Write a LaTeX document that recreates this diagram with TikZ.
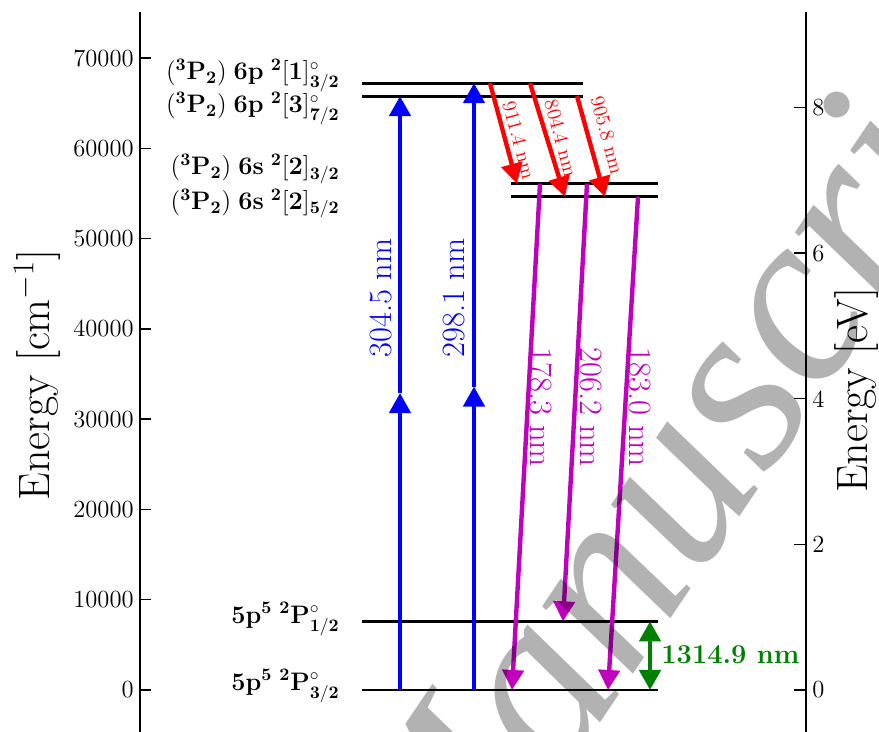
\documentclass[tikz,border=0pt]{standalone}
\usepackage{amsmath}
\usepackage{amssymb}
\usepackage[no-math]{fontspec}
\newfontfamily\wmfont{Liberation Serif}
\usepackage{tikz}
\usetikzlibrary{
  arrows.meta,   % Triangle 箭头
  calc,          % 坐标计算
  positioning    % 节点相对定位
}
% matplotlib 默认颜色
\definecolor{mblue}{rgb}{0,0,1}
\definecolor{mred}{rgb}{1,0,0}
\definecolor{mmagenta}{rgb}{0.75,0,0.75}
\definecolor{mgreen}{rgb}{0,0.5,0}
\tikzset{
  level line/.style={line width=1.7pt, draw=black},
  spine/.style={line width=1.6pt, draw=black},
  tick/.style={line width=0.8pt, draw=black},
  trans/.style={->, line width=2.5pt},
  pump/.style={trans, color=mblue},
  decay/.style={trans, color=mred},
  emit/.style={trans, color=mmagenta},
  fine/.style={<->, line width=2.5pt, color=mgreen},
  level label/.style={anchor=east, inner sep=0pt, font=\fontsize{13.7}{16}\selectfont},
  wl label/.style={inner sep=0pt, font=\fontsize{18.5}{21}\selectfont},
  small wl/.style={inner sep=0pt, font=\fontsize{11.5}{13}\selectfont},
  tick label/.style={inner sep=0pt, font=\fontsize{14}{16}\selectfont},
  axis label/.style={inner sep=0pt, rotate=90, font=\fontsize{25}{29}\selectfont},
  watermark/.style={inner sep=0pt, text=black, text opacity=0.3,
    font=\wmfont\itshape\fontsize{140}{140}\selectfont}
}

\begin{document}
\begin{tikzpicture}[x=0.02cm, y=0.02cm, >={Triangle[length=11.4pt, width=12pt]},
  line cap=butt]
  \useasboundingbox (0,0) rectangle (879,731);
  \clip (0,0) rectangle (879,731);

  % ===================================
  % 能级图 (纵坐标单位: 10^3 cm^-1)
  % ===================================
  \begin{scope}[shift={(0,41)}, y=0.1806cm]
    \def\EgA{0}      % 5p5 2P 3/2
    \def\EgB{7.603}  % 5p5 2P 1/2
    \def\EsA{54.633} % 6s [2] 5/2
    \def\EsB{56.093} % 6s [2] 3/2
    \def\EpA{65.78}  % 6p [3] 7/2
    \def\EpB{67.22}  % 6p [1] 3/2

    % 坐标轴
    \draw[spine] (140,-6) -- (140,75.08);
    \draw[spine] (806,-6) -- (806,75.08);
    \foreach \e/\t in {0/0,10/10000,20/20000,30/30000,40/40000,50/50000,60/60000,70/70000} {
      \draw[tick] (140,\e) -- ++(11,0);
      \node[tick label, anchor=east] at (134,\e) {\t};
    }
    \foreach \v in {0,2,4,6,8} {
      \draw[tick] (806,{\v*8.0655}) -- ++(-12,0);
      \node[tick label, anchor=west] at (812,{\v*8.0655}) {\v};
    }
    \node[axis label] (ylab) at (37,34.9) {Energy [cm$^{-1}$]};
    \node[axis label] (ylab2) at (857,33.2) {Energy [eV]};

    % 能级线
    \foreach \n/\xa/\xb/\e in {pB/362/583/\EpB, pA/362/583/\EpA,
        sB/511/658/\EsB, sA/511/658/\EsA, gB/362/658/\EgB, gA/362/658/\EgA} {
      \coordinate (\n-l) at (\xa,\e);
      \coordinate (\n-r) at (\xb,\e);
      \draw[level line] (\n-l) -- (\n-r);
    }

    % 能级标注
    \node[level label] (lpB) at (340,68.1) {$\mathbf{(^3P_2)\;6p\;{}^2[1]^\circ_{3/2}}$};
    \node[level label] (lpA) at (340,64.45) {$\mathbf{(^3P_2)\;6p\;{}^2[3]^\circ_{7/2}}$};
    \node[level label] (lsB) at (340,57.7) {$\mathbf{(^3P_2)\;6s\;{}^2[2]_{3/2}}$};
    \node[level label] (lsA) at (340,53.88) {$\mathbf{(^3P_2)\;6s\;{}^2[2]_{5/2}}$};
    \node[level label] (lgB) at (340,7.86) {$\mathbf{5p^5\;{}^2P^\circ_{1/2}}$};
    \node[level label] (lgA) at (340,0.44) {$\mathbf{5p^5\;{}^2P^\circ_{3/2}}$};

    % 双光子激发 (蓝)
    \draw[pump] (400,\EgA) -- (400,{\EpA/2});
    \draw[pump] (400,{\EpA/2}) -- (400,\EpA);
    \draw[pump] (474,\EgA) -- (474,{\EpB/2});
    \draw[pump] (474,{\EpB/2}) -- (474,\EpB);
    \node[wl label, rotate=90, text=mblue] (w1) at (381,43.41) {304.5 nm};
    \node[wl label, rotate=90, text=mblue] (w2) at (454,43.41) {298.1 nm};

    % 6p -> 6s 跃迁 (红)
    \draw[decay] (490,\EpB) -- (517,\EsB);
    \draw[decay] (530,\EpB) -- (565,\EsA);
    \draw[decay] (577,\EpA) -- (605,\EsA);
    \node[small wl, rotate=-74.7, text=mred] (r1) at (519,60.91) {911.4 nm};
    \node[small wl, rotate=-74.7, text=mred] (r2) at (561,61.13) {804.4 nm};
    \node[small wl, rotate=-74.7, text=mred] (r3) at (607,61.46) {905.8 nm};

    % 6s -> 5p 辐射 (品红)
    \draw[emit] (540,\EsB) -- (512,\EgA);
    \draw[emit] (587,\EsB) -- (563,\EgB);
    \draw[emit] (638,\EsA) -- (608,\EgA);
    \node[wl label, rotate=-90, text=mmagenta] (m1) at (541,31.34) {178.3 nm};
    \node[wl label, rotate=-90, text=mmagenta] (m2) at (591,31.34) {206.2 nm};
    \node[wl label, rotate=-90, text=mmagenta] (m3) at (640,31.34) {183.0 nm};

    % 精细结构分裂 (绿)
    \draw[fine] (650,\EgB) -- (650,\EgA);
    \node[anchor=west, inner sep=0pt, text=mgreen,
      font=\bfseries\fontsize{15.5}{18}\selectfont] (gl) at (661,3.876) {1314.9 nm};
  \end{scope}

  % 水印
  \node[watermark, rotate=56, anchor=base west] (wm) at (445,-223) {Manuscript};
\end{tikzpicture}
\end{document}
